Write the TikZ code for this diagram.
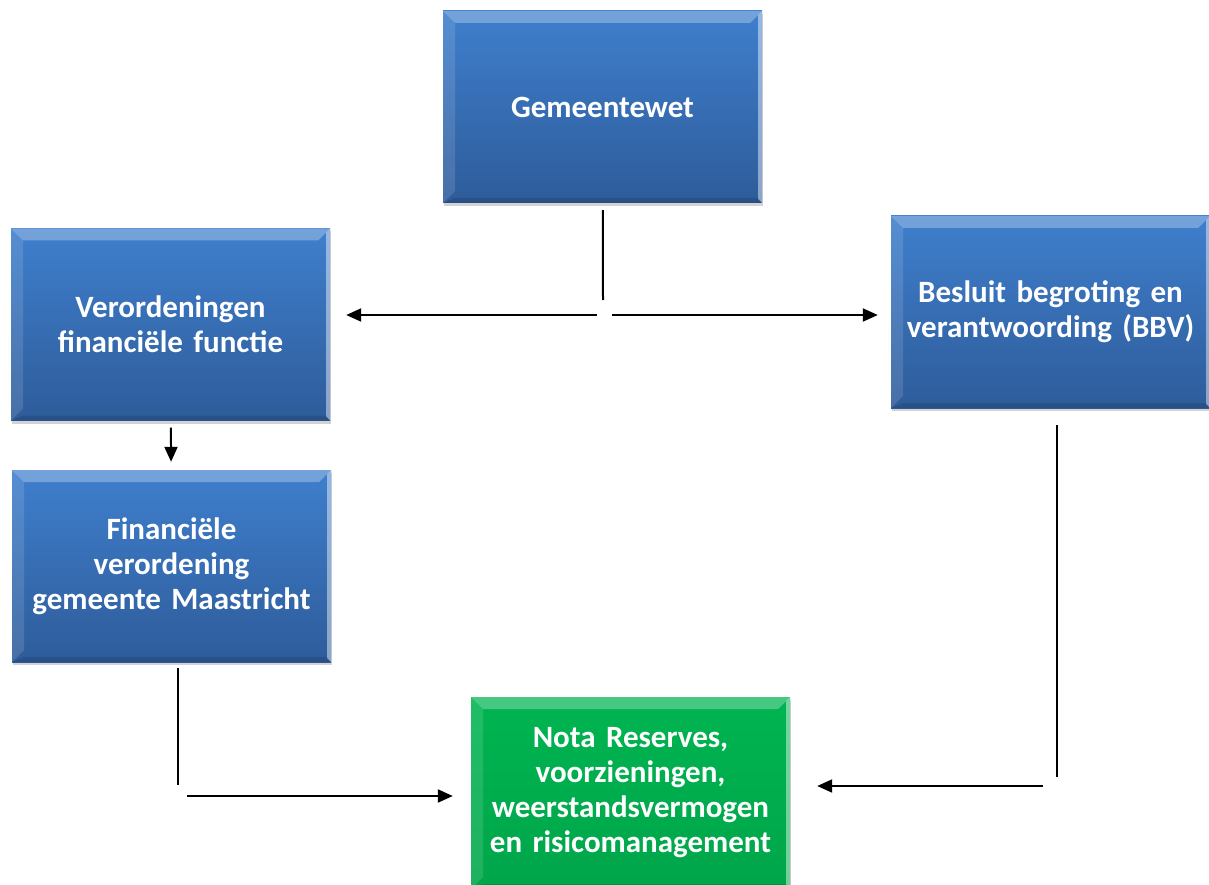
\documentclass[tikz,border=0pt]{standalone}
\usepackage{fontspec}
\setmainfont{Carlito}
\usepackage{tikz}
\usetikzlibrary{arrows.meta,shadows}

\definecolor{boxtop}{HTML}{3F7FCD}
\definecolor{boxbot}{HTML}{2E5C9A}
\definecolor{notatop}{HTML}{00B451}
\definecolor{notabot}{HTML}{00A64A}

\tikzset{
  bevel/.style={path picture={
    \fill[white,opacity=0.28] (path picture bounding box.north west) -- (path picture bounding box.north east)
      -- ([shift={(-12pt,-12pt)}]path picture bounding box.north east) -- ([shift={(12pt,-12pt)}]path picture bounding box.north west) -- cycle;
    \fill[white,opacity=0.12] (path picture bounding box.north west) -- ([shift={(12pt,-12pt)}]path picture bounding box.north west)
      -- ([shift={(12pt,12pt)}]path picture bounding box.south west) -- (path picture bounding box.south west) -- cycle;
    \fill[white,opacity=0.45] (path picture bounding box.north east) -- ([shift={(-4pt,-4pt)}]path picture bounding box.north east)
      -- ([shift={(-4pt,4pt)}]path picture bounding box.south east) -- (path picture bounding box.south east) -- cycle;
    \fill[black,opacity=0.12] (path picture bounding box.south west) -- (path picture bounding box.south east)
      -- ([shift={(-4pt,5pt)}]path picture bounding box.south east) -- ([shift={(12pt,5pt)}]path picture bounding box.south west) -- cycle;
  }},
  blokje/.style={bevel, top color=boxtop, bottom color=boxbot, draw=none,
    minimum width=319pt, minimum height=192pt, text width=310pt, align=center,
    text=white, font=\bfseries\fontsize{31}{35}\selectfont,
    drop shadow={opacity=0.35, shadow xshift=1pt, shadow yshift=-3pt}},
  notablok/.style={blokje, top color=notatop, bottom color=notabot},
  lijn/.style={line width=2pt, black},
  pijl/.style={lijn, -{Triangle[length=15pt,width=13pt]}},
}

\begin{document}
\begin{tikzpicture}[x=1pt, y=-1pt]
  \useasboundingbox (0,0) rectangle (1209,885);

  \node [blokje]   (gemeentewet)   at (602.5,107)  {Gemeentewet};
  \node [blokje]   (verordeningen) at (170.5,324.5) {Verordeningen\\financiële functie};
  \node [blokje]   (financieel)    at (171.5,566)  {Financiële\\verordening\\gemeente Maastricht};
  \node [blokje]   (bbv)           at (1050.5,312)  {Besluit begroting en\\verantwoording (BBV)};
  \node [notablok] (nota)          at (630.5,793)  {Nota Reserves,\\voorzieningen,\\weerstandsvermogen\\en risicomanagement};

  % vanuit de gemeentewet
  \coordinate (splits)  at (603,300);
  \coordinate (splitsL) at (597,315);
  \coordinate (splitsR) at (612,315);
  \draw [lijn, shorten <=7pt] (gemeentewet) -- (splits);
  \draw [pijl, shorten >=16pt] (splitsL) -- (splitsL -| verordeningen.east);
  \draw [pijl, shorten >=13pt] (splitsR) -- (splitsR -| bbv.west);

  \draw [pijl, shorten <=7pt, shorten >=8pt] (verordeningen) -- (financieel);

  % naar de nota
  \coordinate (hoekF)  at (178,785);
  \coordinate (startF) at (187,796);
  \draw [lijn, shorten <=6pt] (hoekF |- financieel.south) -- (hoekF);
  \draw [pijl, shorten >=18pt] (startF) -- (startF -| nota.west);

  \coordinate (hoekB)  at (1057,777);
  \coordinate (startB) at (1043,786);
  \draw [lijn, shorten <=17pt] (hoekB |- bbv.south) -- (hoekB);
  \draw [pijl, shorten >=27pt] (startB) -- (startB -| nota.east);
\end{tikzpicture}
\end{document}
